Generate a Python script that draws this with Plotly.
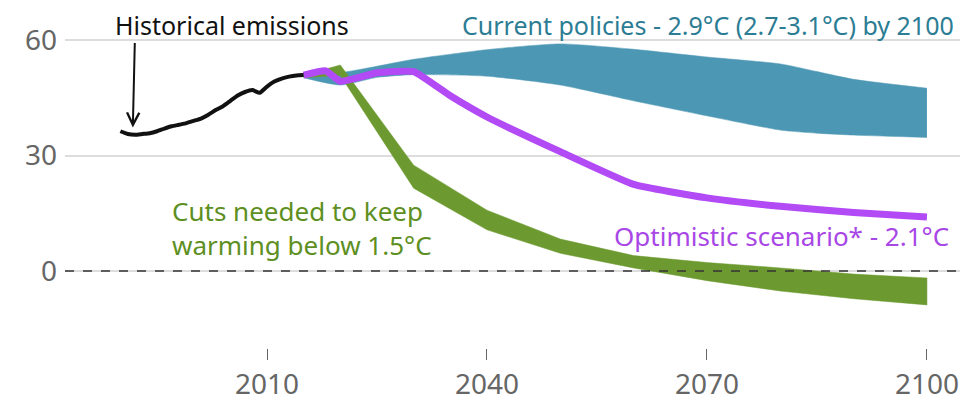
import plotly.graph_objects as go

# ---- data ----
hist_years = list(range(1990, 2016))
hist_vals = [36.3, 35.6, 35.4, 35.6, 35.8, 36.3, 37.0, 37.6, 38.0, 38.4, 39.0, 39.6, 40.6,
             41.8, 42.8, 44.2, 45.6, 46.5, 47.0, 46.3, 47.9, 49.2, 50.0, 50.5, 50.8, 50.9]

policy_years = [2015, 2020, 2025, 2030, 2040, 2050, 2060, 2070, 2080, 2085, 2090, 2100]
policy_high = [50.8, 51.5, 53.2, 55.0, 57.5, 59.0, 57.6, 55.6, 53.8, 51.8, 49.8, 47.5]
policy_low = [50.2, 48.3, 50.3, 51.0, 50.6, 48.3, 44.2, 40.3, 36.6, 35.8, 35.3, 34.7]

cuts_years = [2015, 2020, 2030, 2040, 2050, 2060, 2070, 2080, 2090, 2100]
cuts_high = [50.9, 53.5, 27.5, 15.8, 8.3, 4.0, 2.2, 0.8, -0.8, -1.8]
cuts_low = [50.2, 50.8, 21.5, 10.7, 4.6, 0.8, -2.5, -5.2, -7.2, -8.8]

opt_years = [2015, 2018, 2020, 2025, 2030, 2035, 2040, 2050, 2060, 2070, 2080, 2090, 2100]
opt_vals = [50.9, 52.0, 49.3, 51.5, 51.8, 45.5, 40.0, 31.0, 22.5, 19.0, 16.8, 15.2, 14.0]

x_ticks = [2010, 2040, 2070, 2100]
y_ticks = [0, 30, 60]

TEAL = "#4c97b4"
GREEN = "#6c9a30"
PURPLE = "#b24af5"
FONT = "Noto Sans"

fig = go.Figure()

# current policies band (low edge, then high edge filled down to it)
fig.add_trace(go.Scatter(
    x=policy_years, y=policy_low, mode="lines",
    line=dict(color=TEAL, width=0.5, shape="spline", smoothing=0.6),
    hoverinfo="skip", showlegend=False))
fig.add_trace(go.Scatter(
    x=policy_years, y=policy_high, mode="lines", fill="tonexty", fillcolor=TEAL,
    line=dict(color=TEAL, width=0.5, shape="spline", smoothing=0.6),
    hoverinfo="skip", showlegend=False))

# cuts needed band
fig.add_trace(go.Scatter(
    x=cuts_years + cuts_years[::-1],
    y=cuts_high + cuts_low[::-1],
    fill="toself", fillcolor=GREEN, mode="lines",
    line=dict(color=GREEN, width=0.5),
    hoverinfo="skip", showlegend=False))

# optimistic scenario
fig.add_trace(go.Scatter(
    x=opt_years, y=opt_vals, mode="lines",
    line=dict(color=PURPLE, width=7, shape="spline", smoothing=0.4),
    hoverinfo="skip", showlegend=False))

# historical
fig.add_trace(go.Scatter(
    x=hist_years, y=hist_vals, mode="lines",
    line=dict(color="#111111", width=4, shape="spline", smoothing=0.5),
    hoverinfo="skip", showlegend=False))

# zero line
fig.add_shape(type="line", xref="paper", yref="y", x0=0, x1=1, y0=0, y1=0,
              line=dict(color="#333333", width=1.6, dash="dash"), layer="above")

annots = [
    dict(x=2005.2, y=63.9, text="Historical emissions", showarrow=False, borderpad=0,
         font=dict(color="#111111", size=25, family=FONT), xanchor="center", yanchor="middle"),
    dict(x=1991.7, y=37.3, text="", showarrow=True, ax=2, ay=-86,
         arrowhead=5, arrowsize=1.2, arrowwidth=2, arrowcolor="#111111"),
    dict(x=2103.8, y=63.9, text="Current policies - 2.9°C (2.7-3.1°C) by 2100", showarrow=False,
         borderpad=0, font=dict(color="#2c7d94", size=25, family=FONT),
         xanchor="right", yanchor="middle"),
    dict(x=1996.8, y=11.3, text="Cuts needed to keep<br>warming below 1.5°C", showarrow=False,
         align="left", font=dict(color="#5e8f22", size=26, family=FONT),
         xanchor="left", yanchor="middle"),
    dict(x=2057.0, y=9.1, text="Optimistic scenario* - 2.1°C", showarrow=False,
         font=dict(color="#a846e6", size=26, family=FONT), xanchor="left", yanchor="middle"),
]
for a in annots:
    fig.add_annotation(xref="x", yref="y", **a)

fig.update_xaxes(range=[1982.45, 2105.6], tickvals=x_ticks, ticktext=[str(v) for v in x_ticks],
                 showgrid=False, zeroline=False, showline=False,
                 ticks="outside", ticklen=11, tickwidth=1, tickcolor="#666666",
                 ticklabelstandoff=0,
                 tickfont=dict(size=28, color="#666666", family=FONT))
fig.update_yaxes(range=[-20, 67.8], tickvals=y_ticks, ticktext=[str(v) for v in y_ticks],
                 showgrid=True, gridcolor="#dddddd", gridwidth=1.5, zeroline=False,
                 showline=False, ticks="", ticklabelstandoff=7,
                 tickfont=dict(size=28, color="#666666", family=FONT))

fig.update_layout(width=960, height=396, margin=dict(l=57, r=0, t=2, b=56, autoexpand=False),
                  paper_bgcolor="white", plot_bgcolor="white",
                  font=dict(family=FONT))

fig.write_html("out.html")
